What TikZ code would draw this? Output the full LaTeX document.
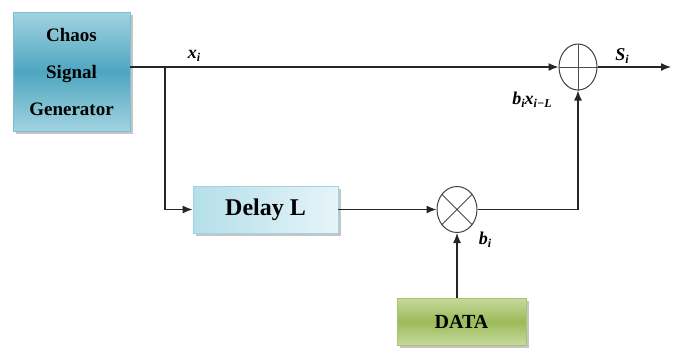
\documentclass[tikz,border=0pt]{standalone}
\usepackage{fontspec}
\setmainfont{Liberation Serif}
\usetikzlibrary{shapes.geometric,arrows.meta,shadows}
\definecolor{chaosmid}{HTML}{4EA6C0}
\definecolor{chaosedge}{HTML}{A2D3E0}
\definecolor{chaosborder}{HTML}{7CBFD2}
\definecolor{delaya}{HTML}{B4DFEA}
\definecolor{delayb}{HTML}{E6F4F8}
\definecolor{greenmid}{HTML}{9BBB59}
\definecolor{greenedge}{HTML}{C6DA9E}
\definecolor{greenborder}{HTML}{A9C46E}
\tikzset{
  blockbox/.style={draw, line width=0.8pt, inner sep=0pt, align=center, font=\bfseries,
    drop shadow={shadow xshift=2.5pt, shadow yshift=-2.5pt, fill=black!45}},
  conn/.style={line width=1.3pt, draw=black!85},
  arr/.style={conn, -{Latex[length=10pt,width=8pt]}},
  opnode/.style={ellipse, draw, line width=1pt, draw=black!75, inner sep=0pt, fill=white},
  lbl/.style={font=\fontsize{18}{20}\selectfont\bfseries\itshape, inner sep=0pt}
}
\newcommand{\lowsub}[1]{\raisebox{-0.35ex}{\fontsize{12}{12}\selectfont #1}}
\begin{document}
\begin{tikzpicture}[x=1pt,y=-1pt]
\useasboundingbox (0,0) rectangle (677,349);
\node[blockbox, draw=chaosborder, top color=chaosedge, bottom color=chaosedge, middle color=chaosmid,
      minimum width=117pt, minimum height=119pt, font=\fontsize{19}{37}\selectfont\bfseries]
      (chaos) at (71.5,71.5) {Chaos\\Signal\\Generator};
\node[blockbox, draw=delaya!80!chaosmid, left color=delaya, right color=delayb,
      minimum width=145pt, minimum height=47pt, font=\fontsize{24}{26}\selectfont\bfseries]
      (delay) at (265.5,209.5) {Delay L};
\node[blockbox, draw=greenborder, top color=greenedge, bottom color=greenedge, middle color=greenmid,
      minimum width=129pt, minimum height=47pt, font=\fontsize{20}{22}\selectfont\bfseries]
      (data) at (461.5,321.5) {DATA};
\node[opnode, minimum width=40pt, minimum height=46pt] (mul) at (457,209.5) {};
\draw[line width=0.9pt, black!70] (mul.45) -- (mul.225) (mul.135) -- (mul.315);
\node[opnode, minimum width=38pt, minimum height=46pt] (add) at (578,67) {};
\draw[line width=0.9pt, black!70] (add.north) -- (add.south) (add.west) -- (add.east);
\coordinate (br) at (165,67);
\coordinate (out) at (671,67);
\draw[arr] (chaos.east |- add) -- (add.west);
\draw[arr] (br) |- (delay.west);
\draw[arr] (delay.east) -- (mul.west);
\draw[arr] (mul.east) -| (add.south);
\draw[arr] (data.north -| mul) -- (mul.south);
\draw[arr] (add.east) -- (out);
\node[lbl] (lx) at (194,56) {x\lowsub{i}};
\node[lbl] (ls) at (622,56) {S\lowsub{i}};
\node[lbl] (lb) at (532,100) {b\lowsub{i}x\lowsub{i−L}};
\node[lbl] (lbi) at (485,240) {b\lowsub{i}};
\end{tikzpicture}
\end{document}
